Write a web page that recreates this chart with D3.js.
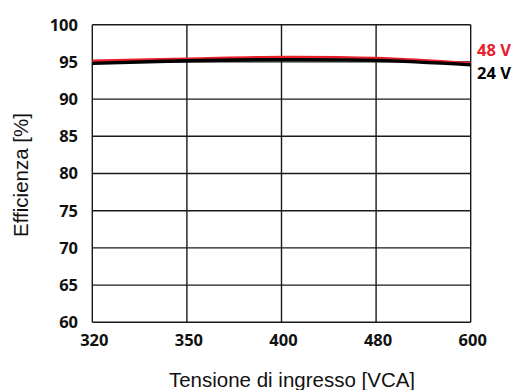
<!DOCTYPE html>
<html>
<head>
<meta charset="utf-8">
<script src="https://cdn.jsdelivr.net/npm/d3@7"></script>
<style>
  html, body { margin: 0; padding: 0; background: #fff; }
  svg { display: block; }
</style>
</head>
<body>
<svg id="chart" width="520" height="390"></svg>
<script>
// Input voltage categories (VCA) and efficiency per output voltage
const voltages = ["320", "350", "400", "480", "600"];
const eff48 = [95.15, 95.4, 95.65, 95.5, 94.8];
const eff24 = [94.8, 95.15, 95.3, 95.2, 94.6];
const yTicks = [60, 65, 70, 75, 80, 85, 90, 95, 100];
const seriesNames = ["48 V", "24 V"];
const seriesColors = ["#e8202a", "#000000"];

const svg = d3.select("#chart");
const plot = { left: 92.3, right: 470.7, top: 24.7, bottom: 322.3 };

const x = d3.scalePoint().domain(voltages).range([plot.left, plot.right]);
const y = d3.scaleLinear().domain([60, 100]).range([plot.bottom, plot.top]);

const tickFont = "'Open Sans', sans-serif";

// Horizontal grid lines
svg.append("g").selectAll("line").data(yTicks).join("line")
  .attr("x1", plot.left).attr("x2", plot.right)
  .attr("y1", d => y(d)).attr("y2", d => y(d))
  .attr("stroke", "#1a1a1a").attr("stroke-width", 1.4);

// Vertical grid lines at each category
svg.append("g").selectAll("line").data(voltages).join("line")
  .attr("x1", d => x(d)).attr("x2", d => x(d))
  .attr("y1", plot.top).attr("y2", plot.bottom)
  .attr("stroke", "#1a1a1a").attr("stroke-width", 1.4);

// Y tick labels
svg.append("g").selectAll("text").data(yTicks).join("text")
  .attr("x", 78).attr("y", d => y(d))
  .attr("dy", "0.36em")
  .attr("text-anchor", "end")
  .attr("font-family", tickFont).attr("font-weight", 700)
  .attr("font-size", 16.5).attr("fill", "#111")
  .text(d => d);

// X tick labels
svg.append("g").selectAll("text").data(voltages).join("text")
  .attr("x", d => x(d) + 2).attr("y", 346)
  .attr("text-anchor", "middle")
  .attr("font-family", tickFont).attr("font-weight", 700)
  .attr("font-size", 16.5).attr("fill", "#111")
  .text(d => d);

// Efficiency curves (48 V first, 24 V on top)
const line = d3.line()
  .x((d, i) => x(voltages[i]))
  .y(d => y(d))
  .curve(d3.curveCardinal.tension(0));

svg.append("path").datum(eff48)
  .attr("d", line).attr("fill", "none")
  .attr("stroke", seriesColors[0]).attr("stroke-width", 2.8);

svg.append("path").datum(eff24)
  .attr("d", line).attr("fill", "none")
  .attr("stroke", seriesColors[1]).attr("stroke-width", 3.4);

// Series labels at the right edge
svg.append("g").selectAll("text").data(seriesNames).join("text")
  .attr("x", 477).attr("y", (d, i) => 56 + i * 22.6)
  .attr("font-family", tickFont).attr("font-weight", 700)
  .attr("font-size", 16.5)
  .attr("fill", (d, i) => seriesColors[i])
  .text(d => d);

// Axis titles
svg.append("text")
  .attr("x", 292).attr("y", 387)
  .attr("text-anchor", "middle")
  .attr("font-family", "'Liberation Sans', Arial, sans-serif")
  .attr("font-size", 20.5).attr("fill", "#111")
  .text("Tensione di ingresso [VCA]");

svg.append("text")
  .attr("transform", "translate(28.3,175) rotate(-90)")
  .attr("text-anchor", "middle")
  .attr("font-family", "'Liberation Sans', Arial, sans-serif")
  .attr("font-size", 20.5).attr("fill", "#111")
  .text("Efficienza [%]");
</script>
</body>
</html>
